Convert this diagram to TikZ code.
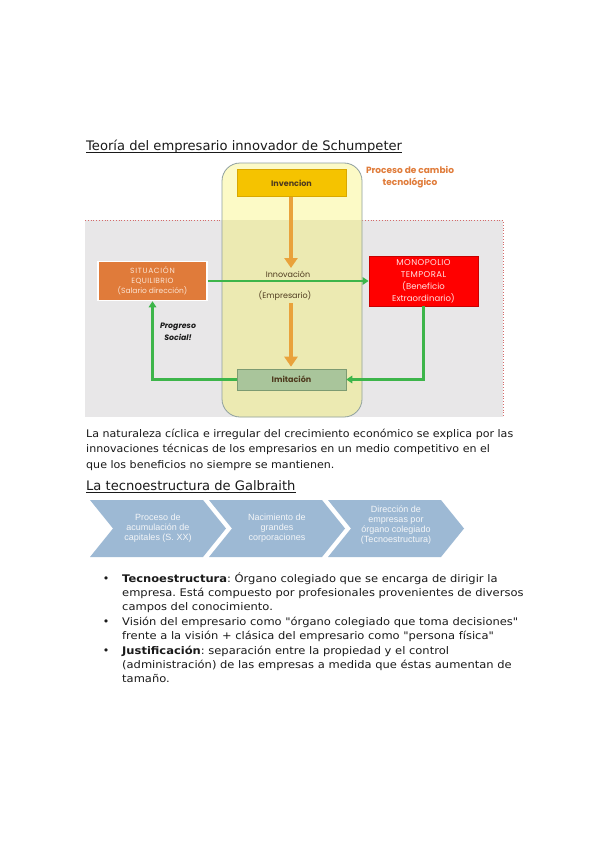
\documentclass[tikz,border=0pt]{standalone}
\usepackage{fontspec}
\setmainfont{DejaVu Sans}
\newfontfamily\gothic{Poppins}
\newfontfamily\arialf{Liberation Sans}
\newfontfamily\parfont[FakeStretch=1.055]{DejaVu Sans}
\newfontfamily\bulfont[FakeStretch=1.095]{DejaVu Sans}
\usetikzlibrary{arrows.meta}
\definecolor{txt}{HTML}{1A1A1A}
\definecolor{greybg}{HTML}{E8E7E8}
\definecolor{dotred}{HTML}{D46A6A}
\definecolor{ylight}{HTML}{FCFAC6}
\definecolor{ydark}{HTML}{ECEAB2}
\definecolor{yborder}{HTML}{8FA0A0}
\definecolor{invfill}{HTML}{F5C300}
\definecolor{invborder}{HTML}{D9A800}
\definecolor{darklbl}{HTML}{4E3A1E}
\definecolor{orbox}{HTML}{E07B3A}
\definecolor{orboxtxt}{HTML}{FBE3D2}
\definecolor{redbox}{HTML}{FF0000}
\definecolor{redborder}{HTML}{C80000}
\definecolor{redtxt}{HTML}{FFE0E0}
\definecolor{imfill}{HTML}{A9C59B}
\definecolor{imborder}{HTML}{7D9B72}
\definecolor{grn}{HTML}{3DB54A}
\definecolor{orar}{HTML}{E9A23B}
\definecolor{procc}{HTML}{E07B39}
\definecolor{chevfill}{HTML}{9DB9D4}
\definecolor{chevtxt}{HTML}{F4F6F8}
\frenchspacing
\begin{document}
\begin{tikzpicture}[x=1pt,y=-1pt,
  body/.style={anchor=base west, inner sep=0, font=\parfont\fontsize{10.5}{12}\selectfont, text=txt},
  bul/.style={anchor=base west, inner sep=0, font=\bulfont\fontsize{10.5}{12}\selectfont, text=txt},
  bulmark/.style={anchor=base, inner sep=0, font=\fontsize{11}{12}\selectfont, text=txt},
  head/.style={anchor=base west, inner sep=0, font=\fontsize{13.1}{15}\selectfont, text=txt},
  uline/.style={draw=txt, line width=0.7pt},
  dlabel/.style={align=center, inner sep=0, font=\gothic\fontsize{7.5}{10}\selectfont},
  chevtext/.style={font=\arialf\fontsize{9}{10}\selectfont, text=chevtxt, align=center, inner sep=0},
  garrow/.style={draw=grn, line width=2.2pt, -{Triangle[width=7.5pt,length=6pt]}},
  oarrow/.style={draw=orar, line width=4pt, -{Triangle[width=13pt,length=10pt]}},
  chev/.style={fill=chevfill},
]
\useasboundingbox[fill=white] (0,0) rectangle (599,848);

% ---------- heading 1
\node[head] (t1) at (86,150) {Teoría del empresario innovador de Schumpeter};
\draw[uline] ([yshift=-2.3pt]t1.base west) -- ([yshift=-2.3pt]t1.base east);

% ---------- grey region
\fill[greybg] (85,220) rectangle (503,417);
\draw[dotred, dotted, line width=0.8pt] (85,220) -- (503,220) -- (503,417);

% ---------- yellow rounded band
\fill[ylight, rounded corners=18pt] (222,163) rectangle (362,417);
\begin{scope}
  \clip (85,220) rectangle (503,418);
  \fill[ydark, rounded corners=18pt] (222,163) rectangle (362,417);
\end{scope}
\draw[yborder, line width=0.8pt, rounded corners=18pt] (222,163) rectangle (362,417);

\node[dlabel, font=\gothic\bfseries\fontsize{9}{12}\selectfont, text=procc] (proc) at (410,177) {Proceso de cambio\\tecnológico};

% ---------- boxes
\node[dlabel, font=\gothic\bfseries\fontsize{8}{10}\selectfont, fill=invfill, draw=invborder, line width=0.6pt,
      minimum width=109pt, minimum height=27pt, text=darklbl] (inv) at (291.5,183) {Invencion};
\node[dlabel, fill=orbox, draw=white, line width=1.5pt, minimum width=109pt, minimum height=39pt,
      text=orboxtxt] (sit) at (152.5,281) {{\addfontfeature{LetterSpace=9}SITUACIÓN}\\{\addfontfeature{LetterSpace=5}EQUILIBRIO}\\(Salario dirección)};
\node[dlabel, font=\gothic\fontsize{8.5}{12}\selectfont, fill=redbox, draw=redborder, line width=0.8pt,
      minimum width=109pt, minimum height=50pt, text=redtxt] (mono) at (423.5,281) {{\addfontfeature{LetterSpace=5}MONOPOLIO}\\{\addfontfeature{LetterSpace=5}TEMPORAL}\\(Beneficio\\Extraordinario)};
\node[dlabel, font=\gothic\bfseries\fontsize{8}{10}\selectfont, fill=imfill, draw=imborder, line width=0.6pt,
      minimum width=109pt, minimum height=21pt, text=darklbl] (imit) at (291.5,379.5) {Imitación};

\node[dlabel, font=\gothic\fontsize{8}{10}\selectfont, text=darklbl] (innov) at (288,274.5) {Innovación};
\node[dlabel, font=\gothic\fontsize{8}{10}\selectfont, text=darklbl] (empr) at (285,295.5) {(Empresario)};
\node[dlabel, font=\gothic\bfseries\itshape\fontsize{7.8}{12}\selectfont, text=txt] (prog) at (178,332) {Progreso\\Social!};

% ---------- arrows
\coordinate (innovtip) at (291,268);
\coordinate (emprbot) at (291,303);
\draw[oarrow] (inv.south -| innovtip) -- (innovtip);
\draw[oarrow, shorten >=2pt] (emprbot) -- (emprbot |- imit.north);
\draw[garrow] (sit.east) -- (sit.east -| mono.west);
\draw[garrow] (mono.south) |- (imit.east);
\draw[garrow] (imit.west) -| (sit.south);

% ---------- paragraph
\node[body] (p1) at (86,437) {La naturaleza cíclica e irregular del crecimiento económico se explica por las};
\node[body] (p2) at (86,452.5) {innovaciones técnicas de los empresarios en un medio competitivo en el};
\node[body] (p3) at (86,468) {que los beneficios no siempre se mantienen.};

% ---------- heading 2
\node[head] (t2) at (86,490) {La tecnoestructura de Galbraith};
\draw[uline] ([yshift=-2.3pt]t2.base west) -- ([yshift=-2.3pt]t2.base east);

% ---------- chevrons
\foreach \i in {0,1,2}{
  \pgfmathsetmacro{\L}{90+119*\i}
  \fill[chev] (\L,500) -- (\L+113,500) -- (\L+136,528.5) -- (\L+113,557) -- (\L,557) -- (\L+23,528.5) -- cycle;
}
\node[chevtext] (c1) at (158,528) {Proceso de\\acumulación de\\capitales (S. XX)};
\node[chevtext] (c2) at (277,528) {Nacimiento de\\grandes\\corporaciones};
\node[chevtext] (c3) at (396,525.5) {Dirección de\\empresas por\\órgano colegiado\\(Tecnoestructura)};

% ---------- bullets
\foreach \y/\nm in {582/b1,625/b2,654/b3}{
  \node[bulmark] (\nm) at (106,\y) {•};
}
\node[bul] (l1) at (122,582) {\textbf{Tecnoestructura}: Órgano colegiado que se encarga de dirigir la};
\node[bul] (l2) at (122,596.3) {empresa. Está compuesto por profesionales provenientes de diversos};
\node[bul] (l3) at (122,610.6) {campos del conocimiento.};
\node[bul] (l4) at (122,625) {Visión del empresario como "órgano colegiado que toma decisiones"};
\node[bul] (l5) at (122,639.3) {frente a la visión + clásica del empresario como "persona física"};
\node[bul] (l6) at (122,654) {\textbf{Justificación}: separación entre la propiedad y el control};
\node[bul] (l7) at (122,668.3) {(administración) de las empresas a medida que éstas aumentan de};
\node[bul] (l8) at (122,682.6) {tamaño.};
\end{tikzpicture}
\end{document}
